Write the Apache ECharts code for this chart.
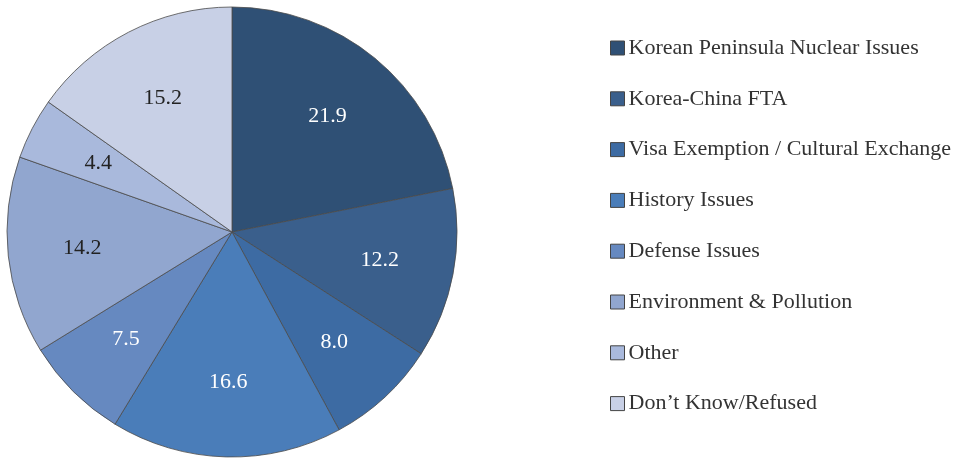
<!DOCTYPE html>
<html>
<head>
<meta charset="utf-8">
<script src="https://cdn.jsdelivr.net/npm/echarts@6/dist/echarts.min.js"></script>
<style>
  html, body { margin: 0; padding: 0; background: #fff; }
  #chart { width: 971px; height: 458px; }
</style>
</head>
<body>
<div id="chart"></div>
<script>
var categories = [
  "Korean Peninsula Nuclear Issues",
  "Korea-China FTA",
  "Visa Exemption / Cultural Exchange",
  "History Issues",
  "Defense Issues",
  "Environment & Pollution",
  "Other",
  "Don\u2019t Know/Refused"
];
var values = [21.9, 12.2, 8.0, 16.6, 7.5, 14.2, 4.4, 15.2];
var colors = ["#2f5075", "#3a5f8c", "#3d6ba3", "#4a7db9", "#6689c0", "#91a6cf", "#a9b9dc", "#c8d0e6"];
var labelColors = ["#fff", "#fff", "#fff", "#fff", "#fff", "#222", "#222", "#222"];

var font = "'Liberation Serif', 'DejaVu Serif', serif";

var pieData = categories.map(function (name, i) {
  return { name: name, value: values[i], itemStyle: { color: colors[i] } };
});
var labelData = categories.map(function (name, i) {
  return {
    name: name,
    value: values[i],
    label: { color: labelColors[i] }
  };
});

var chart = echarts.init(document.getElementById("chart"));
chart.setOption({
  animation: false,
  legend: {
    orient: "vertical",
    left: 605,
    top: 32,
    itemWidth: 14,
    itemHeight: 14,
    itemGap: 28.8,
    icon: "rect",
    itemStyle: { borderColor: "#444", borderWidth: 1 },
    textStyle: { fontFamily: font, fontSize: 22, color: "#333", padding: [0, 0, 0, -1] },
    data: categories
  },
  series: [
    {
      type: "pie",
      center: [232, 232],
      radius: [0, 225],
      startAngle: 90,
      clockwise: true,
      silent: true,
      label: { show: false },
      labelLine: { show: false },
      itemStyle: { borderColor: "#4a4a4a", borderWidth: 0.8 },
      data: pieData
    },
    {
      // transparent ring just to place the value labels further out
      type: "pie",
      center: [232, 232],
      radius: [70, 225],
      startAngle: 90,
      clockwise: true,
      silent: true,
      legendHoverLink: false,
      itemStyle: { color: "rgba(0,0,0,0)", borderWidth: 0 },
      label: {
        show: true,
        position: "inside",
        fontFamily: font,
        fontSize: 22,
        formatter: function (p) { return p.value.toFixed(1); }
      },
      labelLine: { show: false },
      data: labelData
    }
  ]
});
</script>
</body>
</html>
